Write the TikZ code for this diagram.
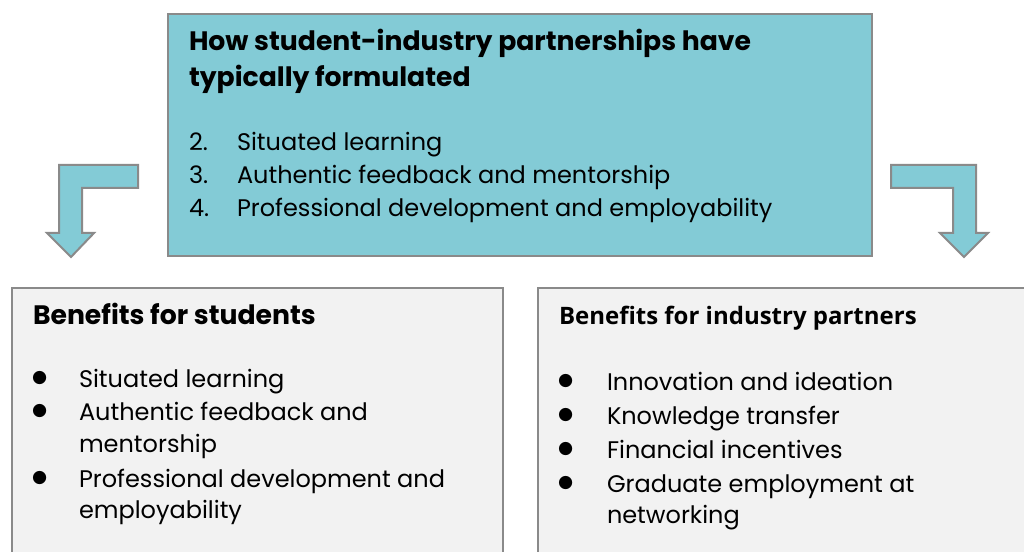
\documentclass[tikz,border=0pt]{standalone}
\usepackage{fontspec}
\usepackage{xcolor}
\setmainfont{Poppins}
\newfontfamily\headfont{Open Sans}
\newfontfamily\dotfont{DejaVu Sans}
\usetikzlibrary{positioning}

\definecolor{boxteal}{HTML}{83CBD6}
\definecolor{boxgray}{HTML}{F2F2F2}
\definecolor{edgegray}{HTML}{8A8A8A}

\begin{document}
\begin{tikzpicture}[
    x=0.75pt, y=-0.75pt,
    every node/.style={inner sep=0pt, outer sep=0pt},
    panel/.style={draw=edgegray, line width=1.5pt, anchor=north west},
    head/.style={font=\fontsize{20}{27}\selectfont\bfseries, anchor=base west},
    item/.style={font=\fontsize{18}{25}\selectfont, anchor=base west},
    dot/.style={font=\dotfont\fontsize{13}{13}\selectfont, anchor=base west},
    bendarrow/.style={fill=boxteal, draw=edgegray, line width=1.5pt, line join=miter}
]
\clip (0,0) rectangle (1024,552);
\fill[white] (0,0) rectangle (1024,552);

% Boxes
\node[panel, fill=boxteal, minimum width=528pt, minimum height=181.5pt] (formulation) at (168,14) {};
\node[panel, fill=boxgray, minimum width=368.25pt, minimum height=225pt] (students) at (12,288) {};
\node[panel, fill=boxgray, minimum width=376.5pt, minimum height=225pt] (industry) at (538,288) {};

% Bent arrows
\draw[bendarrow] (138,165) -- (59,165) -- (59,233) -- (47,233) -- (71,257) -- (94,233) -- (82,233) -- (82,188) -- (138,188) -- cycle;
\draw[bendarrow] (891,165) -- (976,165) -- (976,233) -- (988,233) -- (964,257) -- (940,233) -- (953,233) -- (953,188) -- (891,188) -- cycle;

% Top box text
\node[head] (title1) at (189,51) {How student-industry partnerships have};
\node[head] (title2) at (189,87) {typically formulated};
\foreach \n/\txt/\y in {2/Situated learning/151, 3/Authentic feedback and mentorship/184, 4/Professional development and employability/217} {
  \node[item] (num\n) at (189,\y) {\n.};
  \node[item] (step\n) at (237,\y) {\txt};
}

% Students
\node[head] (stutitle) at (33,325) {Benefits for students};
\foreach \i/\txt/\y in {1/Situated learning/387, 2/Authentic feedback and/420, 3/mentorship/452, 4/Professional development and/487, 5/employability/518} {
  \node[item] (stu\i) at (79,\y) {\txt};
}
\foreach \y in {387,420,487} {
  \node[dot] at (32,\y-5) {●};
}

% Industry partners
\node[head, font=\headfont\fontsize{18}{24}\selectfont\bfseries] (indtitle) at (559,325) {Benefits for industry partners};
\foreach \i/\txt/\y in {1/Innovation and ideation/390, 2/Knowledge transfer/424, 3/Financial incentives/458, 4/Graduate employment at/492, 5/networking/523} {
  \node[item] (ind\i) at (607,\y) {\txt};
}
\foreach \y in {390,424,458,492} {
  \node[dot] at (558,\y-5) {●};
}
\end{tikzpicture}
\end{document}
